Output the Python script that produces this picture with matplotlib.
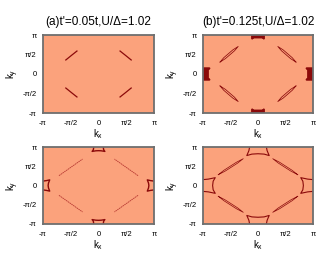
import numpy as np
import matplotlib.pyplot as plt

plt.rcParams['font.family'] = ['Liberation Sans', 'DejaVu Sans']

PI = np.pi
tick_pos = [-PI, -PI / 2, 0, PI / 2, PI]
tick_labels = ['-π', '-π/2', '0', 'π/2', 'π']
titles = ["(a)t'=0.05t,U/Δ=1.02", "(b)t'=0.125t,U/Δ=1.02"]

# nodal features, given for the upper-left quadrant (kx<0, ky>0)
arc_a_kx = [-1.85, -1.53, -1.22]
arc_a_ky = [1.13, 1.50, 1.85]

pocket_b_kx = [-2.17, -1.956, -1.696, -1.436, -1.13, -1.344, -1.604, -1.864, -2.17]
pocket_b_ky = [0.96, 1.313, 1.628, 1.943, 2.22, 1.867, 1.552, 1.237, 0.96]

line_c_kx = [-2.24, -1.57, -0.90]
line_c_ky = [0.80, 1.48, 2.16]

pocket_d_kx = [-2.27, -1.95, -1.59, -1.23, -0.84, -1.16, -1.52, -1.88, -2.27]
pocket_d_ky = [0.88, 1.24, 1.57, 1.90, 2.19, 1.83, 1.50, 1.17, 0.88]

# antinodal features: u along the zone edge, d = depth in from the edge
anti_b_top_u = [-0.34, -0.34, -0.24, 0.24, 0.34, 0.34]
anti_b_top_d = [0.0, 0.30, 0.20, 0.20, 0.30, 0.0]
anti_b_side_u = [-0.46, -0.46, -0.34, 0.34, 0.46, 0.46]
anti_b_side_d = [0.0, 0.38, 0.28, 0.28, 0.38, 0.0]

anti_c_top_u = [-0.27, -0.29, -0.36, -0.15, 0.0, 0.15, 0.36, 0.29, 0.27]
anti_c_top_d = [0.0, 0.22, 0.36, 0.31, 0.30, 0.31, 0.36, 0.22, 0.0]
anti_c_side_u = [-0.36, -0.40, -0.46, -0.20, 0.0, 0.20, 0.46, 0.40, 0.36]
anti_c_side_d = [0.0, 0.20, 0.38, 0.31, 0.29, 0.31, 0.38, 0.20, 0.0]

anti_d_u = [-0.48, -0.52, -0.64, -0.35, 0.0, 0.35, 0.64, 0.52, 0.48]
anti_d_d = [0.0, 0.30, 0.70, 0.58, 0.55, 0.58, 0.70, 0.30, 0.0]

BG = '#fba27c'
DARK = '#8b0a0a'


def four_quadrants(ax, kx, ky, **kw):
    kx, ky = np.array(kx), np.array(ky)
    for sx in (1, -1):
        for sy in (1, -1):
            ax.plot(sx * kx, sy * ky, **kw)


def antinodes(ax, top_u, top_d, side_u, side_d, fill=False, **kw):
    tu, td = np.array(top_u), np.array(top_d)
    su, sd = np.array(side_u), np.array(side_d)
    shapes = [(tu, PI - td), (tu, -PI + td), (-PI + sd, su), (PI - sd, su)]
    for x, y in shapes:
        if fill:
            ax.fill(x, y, color=DARK, lw=kw.get('lw', 1))
        ax.plot(x, y, **kw)


fig = plt.figure(figsize=(3.21, 2.58), dpi=100)
W, H = 321, 258
boxes = [(43, 35, 111, 78), (203, 35, 110, 78), (43, 147, 111, 77), (203, 147, 110, 77)]
axes = []
for (x0, y0, w, h) in boxes:
    ax = fig.add_axes([x0 / W, 1 - (y0 + h) / H, w / W, h / H])
    ax.set_facecolor(BG)
    ax.set_xlim(-PI, PI)
    ax.set_ylim(-PI, PI)
    ax.set_xticks(tick_pos)
    ax.set_xticklabels(tick_labels)
    ax.set_yticks(tick_pos)
    ax.set_yticklabels(tick_labels)
    ax.tick_params(length=0, labelsize=5.5, pad=4.5)
    ax.tick_params(axis='x', pad=5)
    for s in ax.spines.values():
        s.set_color('#6e6e6e')
        s.set_linewidth(1.3)
    ax.set_xlabel(r'$\mathregular{k_x}$', fontsize=7, labelpad=0)
    ax.set_ylabel(r'$\mathregular{k_y}$', fontsize=7, labelpad=1.5)
    axes.append(ax)

ax_a, ax_b, ax_c, ax_d = axes

four_quadrants(ax_a, arc_a_kx, arc_a_ky, color=DARK, lw=0.9)

four_quadrants(ax_b, pocket_b_kx, pocket_b_ky, color=DARK, lw=0.55)
antinodes(ax_b, anti_b_top_u, anti_b_top_d, anti_b_side_u, anti_b_side_d,
          fill=True, color=DARK, lw=1.1)

four_quadrants(ax_c, line_c_kx, line_c_ky, color='#b83a32', lw=0.6, ls=(0, (2, 0.6)))
antinodes(ax_c, anti_c_top_u, anti_c_top_d, anti_c_side_u, anti_c_side_d,
          color=DARK, lw=1.0)

four_quadrants(ax_d, pocket_d_kx, pocket_d_ky, color=DARK, lw=0.5)
antinodes(ax_d, anti_d_u, anti_d_d, anti_d_u, anti_d_d, color=DARK, lw=0.8)

for ax, (x0, y0, w, h), t in zip(axes[:2], boxes[:2], titles):
    fig.text((x0 + w / 2) / W, 1 - 22 / H, t, ha='center', va='center', fontsize=8.5)

fig.savefig('out.png', dpi=100)
